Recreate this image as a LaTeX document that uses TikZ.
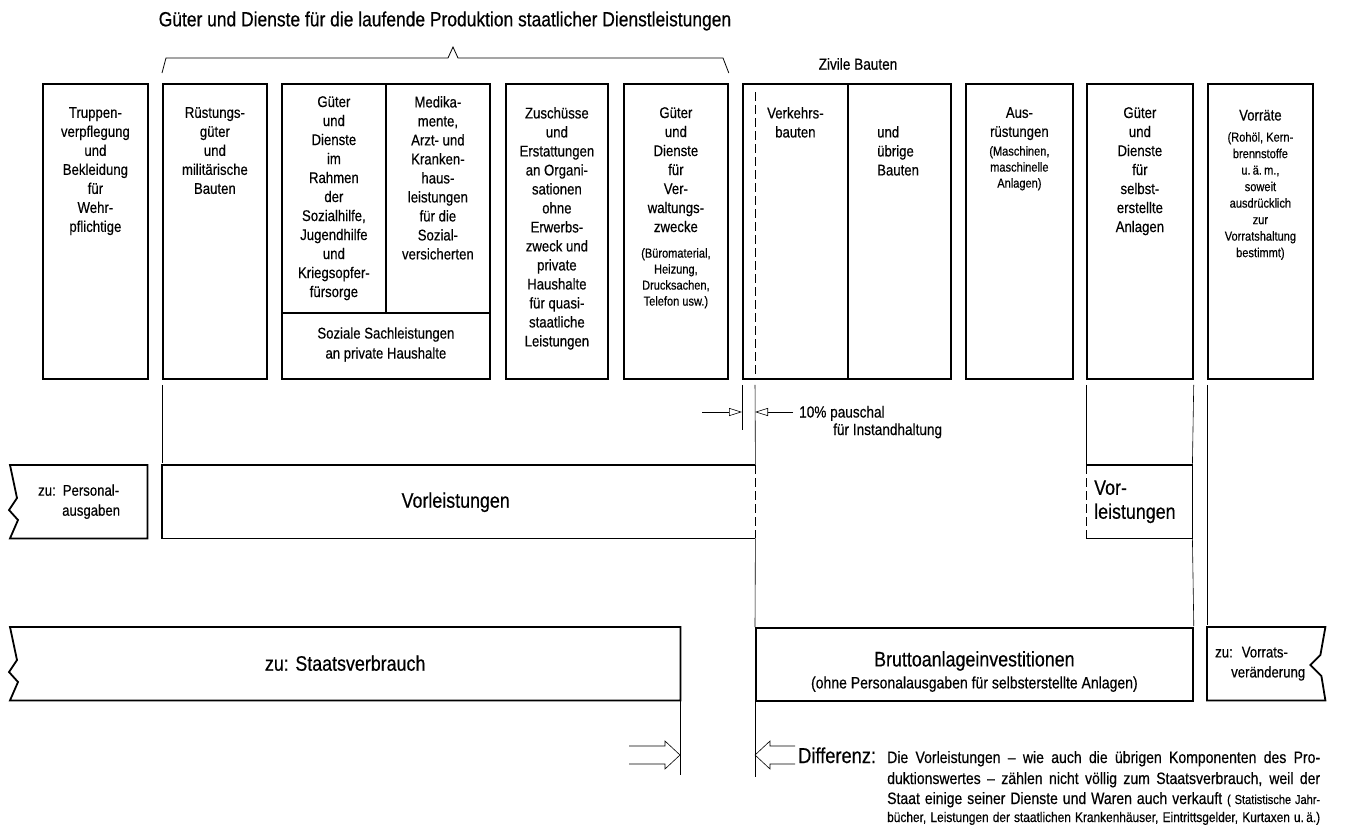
\documentclass[tikz,border=0pt]{standalone}
\usepackage{fontspec}
\setmainfont{Liberation Sans}[FakeStretch=0.85, FakeBold=0.4]
\usetikzlibrary{arrows.meta}
\usetikzlibrary{calc,positioning}

\tikzset{
  panel/.style={draw, line width=1.8pt, inner sep=0pt, anchor=north west},
  zone/.style={inner sep=0pt, anchor=north west},
  txt/.style={align=center, inner sep=0pt, anchor=north, font=\fontsize{15.5}{19}\selectfont, execute at begin node=\strut},
  sml/.style={align=center, inner sep=0pt, anchor=north, font=\fontsize{13}{16}\selectfont, execute at begin node=\strut},
  bigtxt/.style={inner sep=0pt, font=\fontsize{21}{24}\selectfont},
  note/.style={inner sep=0pt, anchor=base west, font=\fontsize{16}{18}\selectfont},
  thinline/.style={line width=0.6pt},
  thickline/.style={line width=1.8pt},
  cutline/.style={line width=0.8pt, dash pattern=on 9pt off 4pt},
  hollow/.style={line width=0.6pt, -{Triangle[open, length=13pt, width=8pt]}},
}

\begin{document}
\begin{tikzpicture}[x=1pt, y=-1pt]
\useasboundingbox (0,0) rectangle (1347,825);

\node[font=\fontsize{20.5}{24}\selectfont] (title) at (445,21) {Güter und Dienste für die laufende Produktion staatlicher Dienstleistungen};

% upper row
\node[panel, minimum width=105pt, minimum height=295pt] (trup) at (42,83) {};
\node[panel, minimum width=104pt, minimum height=295pt] (rues) at (162,83) {};
\node[panel, minimum width=104pt, minimum height=229pt] (soz1) at (281,83) {};
\node[panel, minimum width=104pt, minimum height=229pt] (soz2) at (385,83) {};
\node[panel, minimum width=208pt, minimum height=66pt] (soz3) at (281,312) {};
\node[panel, minimum width=102pt, minimum height=295pt] (zusch) at (505,83) {};
\node[panel, minimum width=104pt, minimum height=295pt] (verw) at (623,83) {};
\node[panel, minimum width=105pt, minimum height=295pt] (verk) at (742,83) {};
\node[panel, minimum width=103pt, minimum height=295pt] (uebr) at (847,83) {};
\node[panel, minimum width=107pt, minimum height=295pt] (ausr) at (965,83) {};
\node[panel, minimum width=106pt, minimum height=295pt] (selb) at (1086,83) {};
\node[panel, minimum width=105pt, minimum height=295pt] (vorr) at (1207,83) {};

\draw[thinline, line width=0.8pt] ([yshift=10pt]rues.north west) -- ++(4,-15) -- (448,58) -- (453,47)
  -- (458,58) -- (723,58) -- ([yshift=10pt]verw.north east);
\node[font=\fontsize{16}{18}\selectfont] (zivil) at (858,64) {Zivile Bauten};

\node[txt, below=24pt of trup.north] (trup-t) {Truppen-\\verpflegung\\und\\Bekleidung\\für\\Wehr-\\pflichtige};
\node[txt, below=24pt of rues.north] (rues-t) {Rüstungs-\\güter\\und\\militärische\\Bauten};
\node[txt, below=13pt of soz1.north] (soz1-t) {Güter\\und\\Dienste\\im\\Rahmen\\der\\Sozialhilfe,\\Jugendhilfe\\und\\Kriegsopfer-\\fürsorge};
\node[txt, below=13pt of soz2.north] (soz2-t) {Medika-\\mente,\\Arzt- und\\Kranken-\\haus-\\leistungen\\für die\\Sozial-\\versicherten};
\node[txt, font=\fontsize{15.5}{20}\selectfont, anchor=center] (soz3-t) at (soz3.center) {Soziale Sachleistungen\\an private Haushalte};
\node[txt, below=24pt of zusch.north] (zusch-t) {Zuschüsse\\und\\Erstattungen\\an Organi-\\sationen\\ohne\\Erwerbs-\\zweck und\\private\\Haushalte\\für quasi-\\staatliche\\Leistungen};
\node[txt, below=24pt of verw.north] (verw-t) {Güter\\und\\Dienste\\für\\Ver-\\waltungs-\\zwecke};
\node[sml, below=165pt of verw.north] (verw-s) {(Büromaterial,\\Heizung,\\Drucksachen,\\Telefon usw.)};
\node[txt, below=24pt of verk.north] (verk-t) {Verkehrs-\\bauten};
\node[txt, align=left, below right=43pt and 30pt of uebr.north west] (uebr-t) {und\\übrige\\Bauten};
\node[txt, below=24pt of ausr.north] (ausr-t) {Aus-\\rüstungen};
\node[sml, below=63pt of ausr.north] (ausr-s) {(Maschinen,\\maschinelle\\Anlagen)};
\node[txt, below=24pt of selb.north] (selb-t) {Güter\\und\\Dienste\\für\\selbst-\\erstellte\\Anlagen};
\node[txt, below=24pt of vorr.north] (vorr-t) {Vorräte};
\node[sml, font=\fontsize{13}{16.5}\selectfont, below=49pt of vorr.north] (vorr-s) {(Rohöl, Kern-\\brennstoffe\\u.\,ä.\,m.,\\soweit\\ausdrücklich\\zur\\Vorratshaltung\\bestimmt)};

\draw[cutline] ([xshift=13pt, yshift=-9pt]verk.north west) -- ([xshift=13pt, yshift=6pt]verk.south west);

% middle row
\node[zone, minimum width=137pt, minimum height=73pt] (pers) at (10,465) {};
\node[zone, minimum width=593pt, minimum height=73pt] (vorl) at (162,465) {};
\node[zone, minimum width=106pt, minimum height=73pt] (vorl2) at (1086,465) {};

\draw[thickline] (pers.north east) -- (pers.north west) -- ++(7,33) -- ++(-8,12) -- ++(9,10)
  -- (pers.south west) -- (pers.south east) -- cycle;
\draw[thickline] (vorl.north east) -- (vorl.north west) -- (vorl.south west) -- (vorl.south east);
\draw[cutline] (vorl.north east) -- (vorl.south east);
\draw[thickline] (vorl2.north west) -- (vorl2.north east) -- (vorl2.south east) -- (vorl2.south west);
\draw[cutline] (vorl2.north west) -- (vorl2.south west);

\node[inner sep=0pt, align=left, anchor=west, font=\fontsize{15.5}{20}\selectfont] (pers-t) at ([xshift=28pt]pers.west)
  {zu:\hspace{7pt}Personal-\\\hspace*{24pt}ausgaben};
\node[bigtxt, anchor=base] (vorl-t) at ([xshift=-3pt, yshift=-6pt]vorl.center) {Vorleistungen};
\node[bigtxt, align=left, anchor=west] (vorl2-t) at ([xshift=8pt]vorl2.west) {Vor-\\leistungen};

% lower row
\node[zone, minimum width=670pt, minimum height=73pt] (staat) at (10,627) {};
\node[panel, minimum width=437pt, minimum height=73pt] (brutto) at (755,627) {};
\node[zone, minimum width=118pt, minimum height=73pt] (vrat) at (1207,627) {};

\draw[thickline] (staat.north east) -- (staat.north west) -- ++(7,33) -- ++(-8,12) -- ++(9,10)
  -- (staat.south west) -- (staat.south east) -- cycle;
\draw[thickline] (vrat.north west) -- (vrat.north east) -- ++(-5,28) -- ++(-10,10) -- ++(11,11)
  -- (vrat.south east) -- (vrat.south west) -- cycle;

\node[bigtxt, anchor=base] (staat-t) at ([yshift=-7pt]staat.center) {zu: Staatsverbrauch};
\node[bigtxt, anchor=base] (brutto-t) at ([yshift=-2pt]brutto.center) {Bruttoanlageinvestitionen};
\node[inner sep=0pt, anchor=base, font=\fontsize{16.5}{18}\selectfont] (brutto-s) at ([yshift=-24pt]brutto.center)
  {(ohne Personalausgaben für selbsterstellte Anlagen)};
\node[inner sep=0pt, align=left, anchor=west, font=\fontsize{15.5}{20}\selectfont] (vrat-t) at ([xshift=8pt]vrat.west)
  {zu:\hspace{9pt}Vorrats-\\\hspace*{16pt}veränderung};

% connectors
\draw[thinline, shorten <=5pt, shorten >=2pt] (rues.south west) -- (vorl.north west);
\draw[thinline] ([yshift=-5pt]verk.south west) -- ++(0,45) coordinate (cutl);
\draw[thinline, shorten <=5pt] ([xshift=13pt]verk.south west) -- (vorl.north east);
\draw[thinline] (vorl.south east) -- (brutto.north west);
\draw[thinline, shorten <=5pt] (selb.south west) -- (vorl2.north west);
\draw[thinline, shorten <=5pt] (selb.south east) -- (vorl2.north east);
\draw[thinline, shorten >=1pt] (vorl2.south east) -- (brutto.north east);
\draw[thinline, shorten <=5pt, shorten >=2pt] (vorr.south west) -- (vrat.north west);

\coordinate (pl) at (742,412);
\coordinate (pr) at (755,412);
\draw[hollow] ($(pl)+(-40,0)$) -- (pl);
\draw[hollow] ($(pr)+(38,0)$) -- (pr);
\node[note] (pct) at (799,417.5) {10\% pauschal};
\node[note] (pct2) at (833,435) {für Instandhaltung};

\draw[thinline] (staat.south east) -- ++(0,75) coordinate (stend);
\draw[thinline] (brutto.south west) -- ++(0,75) coordinate (brend);
\coordinate (sttip) at (680,755);
\coordinate (brtip) at (755,755);
\draw[thinline] (sttip) ++(-51,-9) -- ++(36,0) -- ++(0,-5) -- (sttip) -- ++(-15,14) -- ++(0,-5) -- ++(-36,0);
\draw[thinline] (brtip) ++(40,-9) -- ++(-25,0) -- ++(0,-5) -- (brtip) -- ++(15,14) -- ++(0,-5) -- ++(25,0);

\node[inner sep=0pt, anchor=base west, font=\fontsize{21.5}{24}\selectfont] (diff) at (798,763) {Differenz:};
\node[note, font=\fontsize{16.5}{18}\selectfont] (d1) at (887,763)
  {\makebox[433pt][s]{Die Vorleistungen -- wie auch die übrigen Komponenten des Pro-}};
\node[note, font=\fontsize{16.5}{18}\selectfont] (d2) at (887,784)
  {\makebox[433pt][s]{duktionswertes -- zählen nicht völlig zum Staatsverbrauch, weil der}};
\node[note, font=\fontsize{16.5}{18}\selectfont] (d3) at (887,804)
  {\makebox[433pt][s]{Staat einige seiner Dienste und Waren auch verkauft {\fontsize{13}{14}\selectfont( Statistische Jahr-}}};
\node[note, font=\fontsize{14}{15}\selectfont] (d4) at (887,822)
  {\makebox[433pt][s]{bücher, Leistungen der staatlichen Krankenhäuser, Eintrittsgelder, Kurtaxen u.\,ä.)}};

\end{tikzpicture}
\end{document}
